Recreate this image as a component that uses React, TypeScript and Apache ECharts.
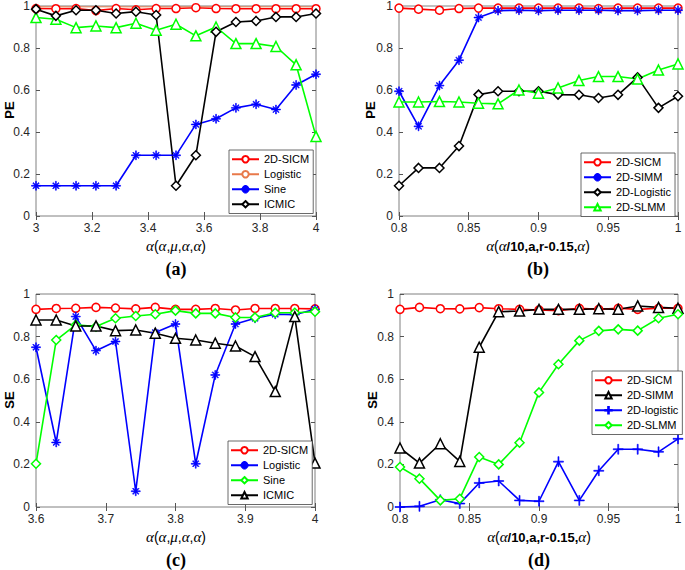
import React, { useEffect, useRef } from 'react';
import * as echarts from 'echarts';

// x positions
const xA = [3, 3.071, 3.143, 3.214, 3.286, 3.357, 3.429, 3.5, 3.571, 3.643, 3.714, 3.786, 3.857, 3.929, 4];
const xB = [0.8, 0.814, 0.829, 0.843, 0.857, 0.871, 0.886, 0.9, 0.914, 0.929, 0.943, 0.957, 0.971, 0.986, 1];
const xC = [3.6, 3.629, 3.657, 3.686, 3.714, 3.743, 3.771, 3.8, 3.829, 3.857, 3.886, 3.914, 3.943, 3.971, 4];
const xD = [0.8, 0.814, 0.829, 0.843, 0.857, 0.871, 0.886, 0.9, 0.914, 0.929, 0.943, 0.957, 0.971, 0.986, 1];

// (a) PE
const aSICM = [0.988, 0.987, 0.988, 0.978, 0.988, 0.982, 0.988, 0.988, 0.992, 0.988, 0.987, 0.987, 0.987, 0.987, 0.987];
const aLogistic = [0.996, 0.996, 0.996, 0.996, 0.996, 0.996, 0.996, 0.996, 0.996, 0.996, 0.996, 0.996, 0.996, 0.996, 0.996];
const aSine = [0.144, 0.144, 0.144, 0.144, 0.144, 0.289, 0.289, 0.289, 0.436, 0.463, 0.515, 0.532, 0.507, 0.624, 0.675];
const aICMIC = [0.985, 0.953, 0.98, 0.98, 0.964, 0.973, 0.957, 0.144, 0.289, 0.877, 0.924, 0.929, 0.948, 0.948, 0.964];
const aGreen = [0.945, 0.937, 0.897, 0.905, 0.897, 0.918, 0.885, 0.913, 0.858, 0.9, 0.821, 0.821, 0.807, 0.72, 0.379];

// (b) PE
const bSICM = [0.99, 0.985, 0.98, 0.988, 0.99, 0.99, 0.99, 0.99, 0.99, 0.99, 0.988, 0.99, 0.99, 0.99, 0.99];
const bSIMM = [0.594, 0.427, 0.621, 0.742, 0.945, 0.978, 0.98, 0.978, 0.98, 0.98, 0.98, 0.978, 0.978, 0.98, 0.98];
const bLogistic = [0.144, 0.229, 0.229, 0.333, 0.578, 0.594, 0.594, 0.594, 0.578, 0.577, 0.562, 0.577, 0.66, 0.515, 0.57];
const bSLMM = [0.543, 0.543, 0.545, 0.543, 0.537, 0.534, 0.6, 0.585, 0.61, 0.645, 0.664, 0.664, 0.652, 0.695, 0.724];

// (c) SE
const cSICM = [0.928, 0.932, 0.933, 0.937, 0.934, 0.93, 0.937, 0.928, 0.928, 0.932, 0.925, 0.932, 0.932, 0.932, 0.93];
const cLogistic = [0.75, 0.303, 0.894, 0.734, 0.777, 0.074, 0.819, 0.859, 0.203, 0.62, 0.859, 0.886, 0.905, 0.903, 0.928];
const cSine = [0.203, 0.784, 0.855, 0.847, 0.886, 0.897, 0.905, 0.922, 0.909, 0.909, 0.89, 0.89, 0.912, 0.912, 0.917];
const cICMIC = [0.878, 0.878, 0.85, 0.85, 0.828, 0.831, 0.816, 0.792, 0.784, 0.769, 0.756, 0.706, 0.542, 0.894, 0.206];

// (d) SE
const dSICM = [0.928, 0.937, 0.931, 0.93, 0.936, 0.931, 0.928, 0.925, 0.922, 0.933, 0.928, 0.933, 0.928, 0.933, 0.933];
const dSIMM = [0.277, 0.206, 0.297, 0.214, 0.75, 0.917, 0.92, 0.928, 0.928, 0.928, 0.931, 0.928, 0.944, 0.937, 0.933];
const dLogistic = [0, 0.003, 0.034, 0.016, 0.113, 0.122, 0.031, 0.027, 0.213, 0.031, 0.17, 0.271, 0.271, 0.259, 0.32];
const dSLMM = [0.188, 0.133, 0.031, 0.039, 0.235, 0.2, 0.302, 0.538, 0.67, 0.781, 0.827, 0.834, 0.828, 0.886, 0.905];

const ASTERISK =
  'path://M0 9L20 9L20 11L0 11Z M9 0L11 0L11 20L9 20Z M2.8 4.2L4.2 2.8L17.2 15.8L15.8 17.2Z M15.8 2.8L17.2 4.2L4.2 17.2L2.8 15.8Z';
const PLUS = 'path://M0 9L20 9L20 11L0 11Z M9 0L11 0L11 20L9 20Z';

const SANS = "'Liberation Sans', Arial, Helvetica, sans-serif";
const SERIF = "'Liberation Serif', 'Times New Roman', serif";

const RED = '#ff0000';
const BLUE = '#0000ff';
const GREEN = '#00ff00';
const BLACK = '#000000';

function pairs(xs: number[], ys: number[]) {
  return xs.map((x, i) => [x, ys[i]]);
}

export default function App() {
  const ref = useRef<HTMLDivElement>(null);
  useEffect(() => {
    if (!ref.current) return;
    const chart = echarts.init(ref.current, null, { renderer: 'svg' });

    const grids = [
      { left: 36, top: 5, width: 280, height: 211 },
      { left: 399, top: 5, width: 279, height: 211 },
      { left: 36, top: 294, width: 279, height: 213 },
      { left: 400, top: 294, width: 278, height: 213 },
    ];
    const xRanges = [
      { min: 3, max: 4, interval: 0.2, dec: 1 },
      { min: 0.8, max: 1, interval: 0.05, dec: 2 },
      { min: 3.6, max: 4, interval: 0.1, dec: 1 },
      { min: 0.8, max: 1, interval: 0.05, dec: 2 },
    ];

    const xAxes: any[] = [];
    const yAxes: any[] = [];
    grids.forEach((g, i) => {
      const r = xRanges[i];
      const tick = { show: true, inside: true, length: 4, lineStyle: { color: '#555', width: 1 } };
      xAxes.push({
        type: 'value', gridIndex: i, min: r.min, max: r.max, interval: r.interval, position: 'bottom',
        axisLine: { show: false }, axisTick: tick, splitLine: { show: false },
        axisLabel: {
          show: true, fontSize: 12, fontFamily: SANS, color: '#262626', margin: 6,
          formatter: (v: number) => String(Math.round(v * Math.pow(10, r.dec)) / Math.pow(10, r.dec)),
        },
      });
      xAxes.push({
        type: 'value', gridIndex: i, min: r.min, max: r.max, interval: r.interval, position: 'top',
        axisLine: { show: false }, axisTick: tick, splitLine: { show: false }, axisLabel: { show: false },
      });
      yAxes.push({
        type: 'value', gridIndex: i, min: 0, max: 1, interval: 0.2, position: 'left',
        axisLine: { show: false }, axisTick: tick, splitLine: { show: false },
        axisLabel: {
          show: true, fontSize: 12, fontFamily: SANS, color: '#262626', margin: 6,
          formatter: (v: number) => String(Math.round(v * 10) / 10),
        },
      });
      yAxes.push({
        type: 'value', gridIndex: i, min: 0, max: 1, interval: 0.2, position: 'right',
        axisLine: { show: false }, axisTick: tick, splitLine: { show: false }, axisLabel: { show: false },
      });
    });

    const mk = (name: string, gi: number, xs: number[], ys: number[], color: string, symbol: string, size: number, width = 1.6, empty = true) => ({
      type: 'line', name, xAxisIndex: gi * 2, yAxisIndex: gi * 2,
      data: pairs(xs, ys), clip: false,
      symbol, symbolSize: size, showSymbol: symbol !== 'none',
      lineStyle: { color, width },
      itemStyle: { color: empty ? '#ffffff' : color, borderColor: color, borderWidth: empty ? 1.5 : 0.6 },
      emphasis: { disabled: true },
    });

    const series: any[] = [
      mk('a|2D-SICM', 0, xA, aSICM, RED, 'circle', 8),
      mk('a|Logistic', 0, xA, aLogistic, '#e8794a', 'none', 0, 0.9),
      mk('a|Sine', 0, xA, aSine, BLUE, ASTERISK, 9, 1.6, false),
      mk('a|Tri', 0, xA, aGreen, GREEN, 'triangle', 10),
      mk('a|ICMIC', 0, xA, aICMIC, BLACK, 'diamond', 9),

      mk('b|2D-SICM', 1, xB, bSICM, RED, 'circle', 8),
      mk('b|2D-SIMM', 1, xB, bSIMM, BLUE, ASTERISK, 9, 1.6, false),
      mk('b|2D-Logistic', 1, xB, bLogistic, BLACK, 'diamond', 9),
      mk('b|2D-SLMM', 1, xB, bSLMM, GREEN, 'triangle', 10),

      mk('c|2D-SICM', 2, xC, cSICM, RED, 'circle', 8),
      mk('c|Logistic', 2, xC, cLogistic, BLUE, ASTERISK, 9, 1.6, false),
      mk('c|Sine', 2, xC, cSine, GREEN, 'diamond', 9),
      mk('c|ICMIC', 2, xC, cICMIC, BLACK, 'triangle', 10),

      mk('d|2D-SICM', 3, xD, dSICM, RED, 'circle', 8),
      mk('d|2D-SIMM', 3, xD, dSIMM, BLACK, 'triangle', 10),
      mk('d|2D-logistic', 3, xD, dLogistic, BLUE, PLUS, 10, 1.6, false),
      mk('d|2D-SLMM', 3, xD, dSLMM, GREEN, 'diamond', 9),
    ];

    const legendBase = {
      orient: 'vertical', padding: [2, 4, 2, 2], itemGap: 0.5, itemWidth: 27, itemHeight: 8,
      backgroundColor: '#ffffff', borderColor: '#444', borderWidth: 0.8, borderRadius: 0,
      selectedMode: false,
      textStyle: { fontSize: 11, fontFamily: SANS, color: '#000', lineHeight: 14.5 },
      formatter: (n: string) => n.split('|')[1],
    };
    const legends = [
      { ...legendBase, left: 229, top: 150, data: ['a|2D-SICM', 'a|Logistic', 'a|Sine', 'a|ICMIC'] },
      { ...legendBase, left: 581, top: 153, data: ['b|2D-SICM', 'b|2D-SIMM', 'b|2D-Logistic', 'b|2D-SLMM'] },
      { ...legendBase, left: 228, top: 441, data: ['c|2D-SICM', 'c|Logistic', 'c|Sine', 'c|ICMIC'] },
      { ...legendBase, left: 592, top: 371, data: ['d|2D-SICM', 'd|2D-SIMM', 'd|2D-logistic', 'd|2D-SLMM'] },
    ];

    const richA = {
      g: { fontFamily: SERIF, fontStyle: 'italic', fontSize: 15, fill: '#000' },
      s: { fontFamily: SANS, fontSize: 14, fill: '#000' },
      b: { fontFamily: SANS, fontSize: 13, fontWeight: 'bold', fill: '#000' },
    };
    const titleA = '{g|α}{s|(}{g|α}{s|,}{g|μ}{s|,}{g|α}{s|,}{g|α}{s|)}';
    const titleB = '{g|α}{s|(}{g|α}{b|/10,a,r-0.15,}{g|α}{s|)}';

    const axisTitle = (x: number, y: number, text: string) => ({
      type: 'text', x, y,
      style: { text, rich: richA, align: 'center', verticalAlign: 'middle', fill: '#000' },
    });
    const yTitle = (x: number, y: number, text: string) => ({
      type: 'text', x, y, rotation: Math.PI / 2,
      style: { text, fontFamily: SANS, fontWeight: 'bold', fontSize: 13, fill: '#000', align: 'center', verticalAlign: 'middle' },
    });
    const panel = (x: number, y: number, text: string) => ({
      type: 'text', x, y,
      style: { text, fontFamily: SERIF, fontWeight: 'bold', fontSize: 18, fill: '#000', align: 'center', verticalAlign: 'middle' },
    });

    const graphic = [
      yTitle(9, 110, 'PE'),
      yTitle(370, 110, 'PE'),
      yTitle(9, 400, 'SE'),
      yTitle(372, 400, 'SE'),
      axisTitle(176, 246, titleA),
      axisTitle(538, 246, titleB),
      axisTitle(176, 537, titleA),
      axisTitle(539, 537, titleB),
      panel(176, 269, '(a)'),
      panel(538, 269, '(b)'),
      panel(176, 560, '(c)'),
      panel(539, 560, '(d)'),
    ];

    chart.setOption({
      animation: false,
      backgroundColor: '#ffffff',
      grid: grids.map((g) => ({ ...g, show: true, borderColor: '#808080', borderWidth: 1, backgroundColor: '#fff', containLabel: false })),
      xAxis: xAxes,
      yAxis: yAxes,
      legend: legends,
      series,
      graphic,
    });
    return () => chart.dispose();
  }, []);
  return <div ref={ref} style={{ position: 'absolute', left: 0, top: 0, width: 685, height: 570 }} />;
}
